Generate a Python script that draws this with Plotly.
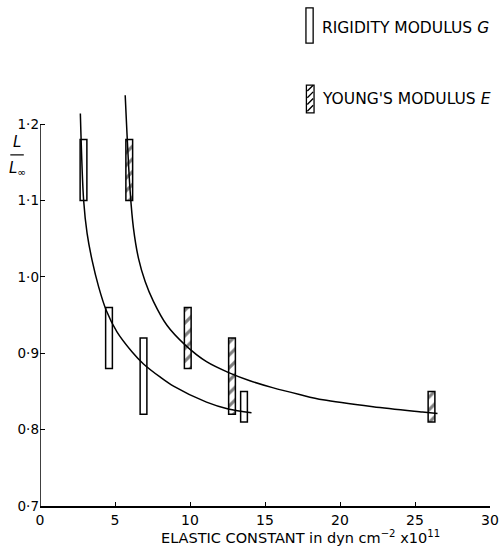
import plotly.graph_objects as go

# ---- data ----
g_x = [2.9, 4.6, 6.9, 13.6]
g_low = [1.10, 0.88, 0.82, 0.81]
g_high = [1.18, 0.96, 0.92, 0.85]

e_x = [5.95, 9.85, 12.8, 26.1]
e_low = [1.10, 0.88, 0.82, 0.81]
e_high = [1.18, 0.96, 0.92, 0.85]

g_curve_x = [2.69, 2.91, 3.14, 3.47, 3.91, 4.42, 5.13, 6.13, 6.9, 8.0, 8.9, 11.1, 12.55, 14.1]
g_curve_y = [1.214, 1.10, 1.057, 1.022, 0.987, 0.956, 0.928, 0.902, 0.886, 0.869, 0.857, 0.836, 0.827, 0.822]

e_curve_x = [5.68, 6.01, 6.23, 6.57, 7.01, 7.56, 8.45, 9.67, 11.1, 12.66, 13.99, 15.5, 17.3, 18.86, 22.2, 25.5, 26.5]
e_curve_y = [1.238, 1.112, 1.064, 1.024, 0.994, 0.968, 0.937, 0.911, 0.889, 0.874, 0.864, 0.855, 0.846, 0.839, 0.830, 0.823, 0.821]

x_ticks = [0, 5, 10, 15, 20, 25, 30]
x_ticklabels = ["0", "5", "10", "15", "20", "25", "30"]
y_ticks = [0.7, 0.8, 0.9, 1.0, 1.1, 1.2]
y_ticklabels = ["0·7", "0·8", "0·9", "1·0", "1·1", "1·2"]

FONT = "DejaVu Sans"

fig = go.Figure()

fig.add_trace(go.Bar(
    x=g_x, base=g_low, y=[h - l for h, l in zip(g_high, g_low)],
    width=0.45, marker=dict(color="white", line=dict(color="black", width=1.5)),
    showlegend=False, name="Rigidity modulus G"))

fig.add_trace(go.Bar(
    x=e_x, base=e_low, y=[h - l for h, l in zip(e_high, e_low)],
    width=0.45,
    marker=dict(color="white", line=dict(color="black", width=1.5),
                pattern=dict(shape="/", fgcolor="black", bgcolor="white",
                             size=9, solidity=0.35)),
    showlegend=False, name="Young's modulus E"))

fig.add_trace(go.Scatter(x=g_curve_x, y=g_curve_y, mode="lines",
                         line=dict(color="black", width=1.5, shape="spline", smoothing=0.9),
                         showlegend=False))
fig.add_trace(go.Scatter(x=e_curve_x, y=e_curve_y, mode="lines",
                         line=dict(color="black", width=1.5, shape="spline", smoothing=0.9),
                         showlegend=False))

# y axis line only from 0.7 to 1.2
fig.add_shape(type="line", xref="x", yref="y", x0=0, x1=0, y0=y_ticks[0], y1=y_ticks[-1],
              line=dict(color="black", width=1.5))

# legend keys (paper coords)
fig.add_shape(type="rect", xref="paper", yref="paper", x0=0.591, x1=0.607, y0=1.102, y1=1.186,
              line=dict(color="black", width=1.3), fillcolor="white")
fig.add_shape(type="rect", xref="paper", yref="paper", x0=0.592, x1=0.609, y0=0.936, y1=1.002,
              line=dict(color="black", width=1.3), fillcolor="white")
hatch = ""
for i in range(4):
    y0 = 0.940 + i * 0.016
    hatch += f"M 0.594,{y0:.3f} L 0.607,{y0 + 0.014:.3f} "
fig.add_shape(type="path", xref="paper", yref="paper", path=hatch,
              line=dict(color="black", width=1.4))

fig.add_annotation(xref="paper", yref="paper", x=0.622, y=1.138, xanchor="left", yanchor="middle",
                   text="RIGIDITY MODULUS <i>G</i>", showarrow=False,
                   font=dict(family=FONT, size=15.5, color="black"))
fig.add_annotation(xref="paper", yref="paper", x=0.622, y=0.968, xanchor="left", yanchor="middle",
                   text="YOUNG'S MODULUS <i>E</i>", showarrow=False,
                   font=dict(family=FONT, size=15.5, color="black"))

# y label L / L∞
fig.add_annotation(xref="paper", yref="paper", x=-0.051, y=0.840, xanchor="center", yanchor="bottom",
                   text="<i>L</i>", showarrow=False, font=dict(family=FONT, size=15, color="black"))
fig.add_shape(type="line", xref="paper", yref="paper", x0=-0.066, x1=-0.036, y0=0.836, y1=0.836,
              line=dict(color="black", width=1.2))
fig.add_annotation(xref="paper", yref="paper", x=-0.051, y=0.832, xanchor="center", yanchor="top",
                   text="<i>L</i><sub>∞</sub>", showarrow=False, font=dict(family=FONT, size=15, color="black"))

# x title
fig.add_annotation(xref="paper", yref="paper", x=0.578, y=-0.1, xanchor="center", yanchor="bottom",
                   text="ELASTIC CONSTANT in dyn cm<sup>−2</sup> x10<sup>11</sup>", showarrow=False,
                   font=dict(family=FONT, size=14.5, color="black"))

fig.update_layout(
    width=502, height=552,
    margin=dict(l=40, r=12, t=86, b=46, autoexpand=False),
    paper_bgcolor="white", plot_bgcolor="white",
    barmode="overlay",
    font=dict(family=FONT, size=14, color="black"),
    xaxis=dict(range=[0, 30], tickvals=x_ticks, ticktext=x_ticklabels, automargin=False,
               showgrid=False, zeroline=False, showline=True, linecolor="black", linewidth=1.5,
               ticks="inside", ticklen=4, tickcolor="black", tickwidth=1.2,
               tickfont=dict(family=FONT, size=14, color="black")),
    yaxis=dict(range=[0.7, 1.25], tickvals=y_ticks, ticktext=y_ticklabels, automargin=False,
               showgrid=False, zeroline=False, showline=False,
               ticks="inside", ticklen=5, tickcolor="black", tickwidth=1.2,
               tickfont=dict(family=FONT, size=13.5, color="black")),
)

fig.write_html("out.html", config={"displayModeBar": False},
               post_script="document.body.style.margin='0';document.body.style.overflow='hidden';")
